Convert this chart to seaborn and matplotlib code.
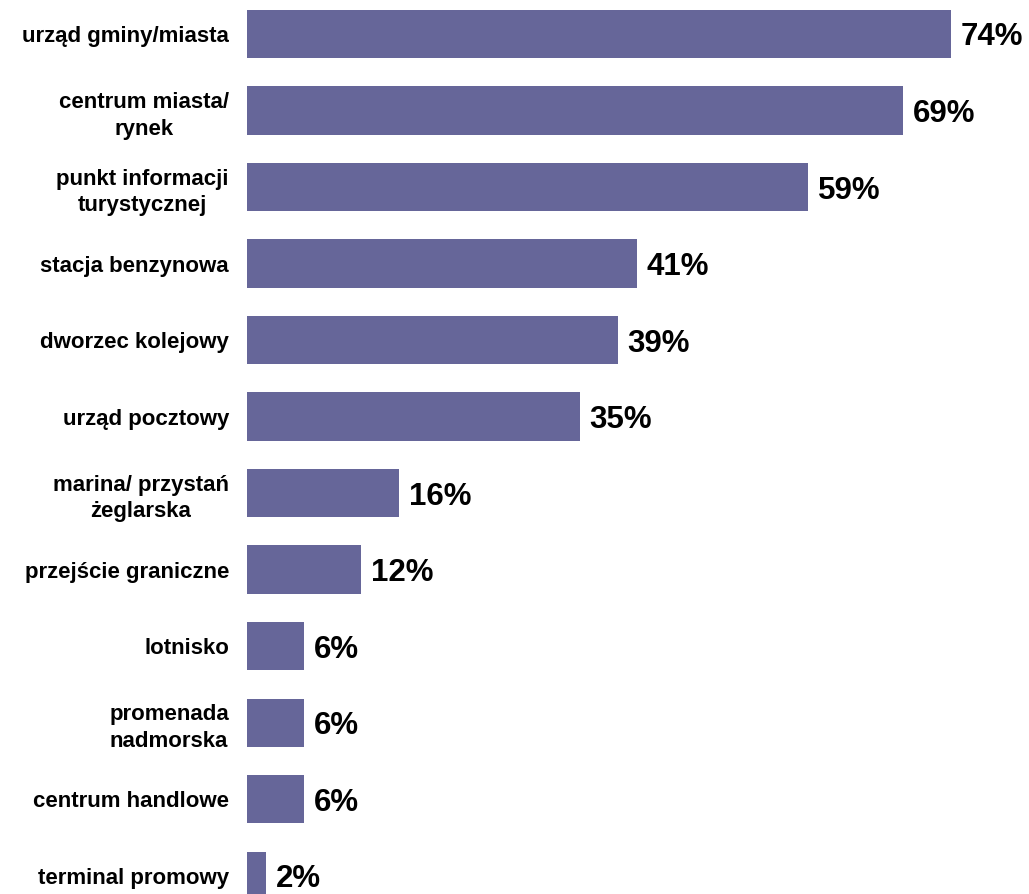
import matplotlib
matplotlib.use("Agg")
import matplotlib.pyplot as plt
import seaborn as sns
import pandas as pd

categories = [
    "urząd gminy/miasta",
    "centrum miasta/\nrynek",
    "punkt informacji\nturystycznej",
    "stacja benzynowa",
    "dworzec kolejowy",
    "urząd pocztowy",
    "marina/ przystań\nżeglarska",
    "przejście graniczne",
    "lotnisko",
    "promenada\nnadmorska",
    "centrum handlowe",
    "terminal promowy",
]
values = [74, 69, 59, 41, 39, 35, 16, 12, 6, 6, 6, 2]

bar_color = "#666699"

sns.set_theme(style="white")
plt.rcParams["font.family"] = ["Liberation Sans", "DejaVu Sans"]

df = pd.DataFrame({"place": categories, "share": values})

fig = plt.figure(figsize=(10.29, 8.94), dpi=100)
ax = fig.add_axes([247 / 1029, 0.0, 782 / 1029, 1.0])

sns.barplot(data=df, x="share", y="place", orient="h", color=bar_color,
            saturation=1, width=0.63, linewidth=0, ax=ax)

ax.set_xlim(0, 82.2)
ax.set_ylim(11.24, -0.444)

for s in ax.spines.values():
    s.set_visible(False)
ax.set_xticks([])
ax.set_xlabel("")
ax.set_ylabel("")
ax.tick_params(axis="y", length=0, pad=13)
for lbl in ax.get_yticklabels():
    lbl.set_fontsize(16)
    lbl.set_fontweight("bold")
    lbl.set_multialignment("center")
    lbl.set_linespacing(1.35)
    lbl.set_color("black")

texts = ax.bar_label(ax.containers[0], labels=[f"{v}%" for v in values],
                     padding=7, fontsize=22.5, fontweight="bold", color="black")
for t in texts:
    t.set_verticalalignment("center_baseline")

fig.savefig("out.png", dpi=100, facecolor="white")
